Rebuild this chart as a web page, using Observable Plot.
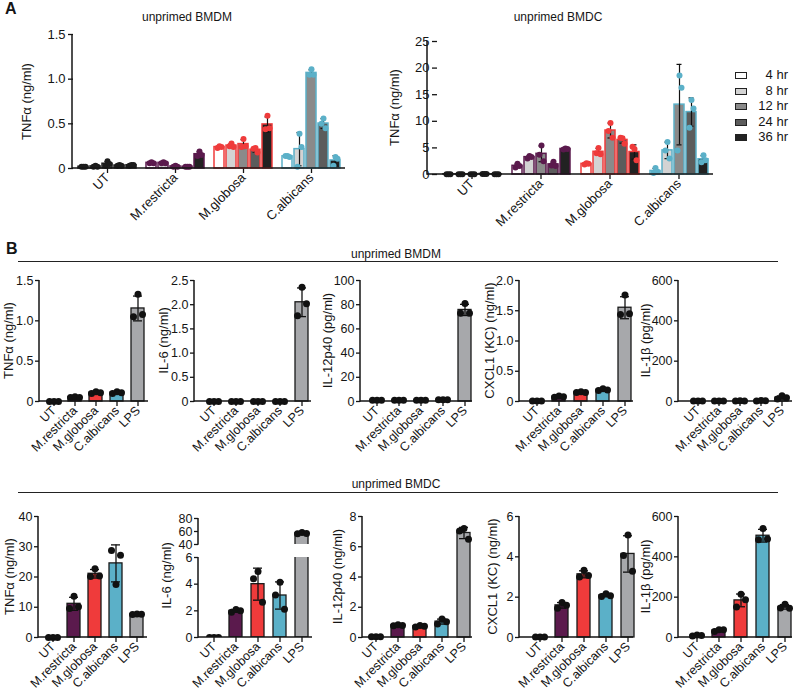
<!DOCTYPE html>
<html><head><meta charset="utf-8">
<script src="https://cdn.jsdelivr.net/npm/d3@7"></script>
<script src="https://cdn.jsdelivr.net/npm/@observablehq/plot@0.6"></script>
<style>
body{margin:0;background:#fff;}
#root{position:relative;width:800px;height:691px;overflow:hidden;font-family:"Liberation Sans",Arial,sans-serif;color:#151515;background:#fff;}
#root svg g[aria-label$="-axis tick"]{stroke-width:1.3px;}
.t{position:absolute;white-space:nowrap;}
</style></head><body><div id="root"></div>
<script>
// ---------- DATA ----------
const categories = ["UT", "M.restricta", "M.globosa", "C.albicans"];
const times = ["4 hr", "8 hr", "12 hr", "24 hr", "36 hr"];
const timeFills = ["#ffffff", "#d3d3d3", "#8a8a8a", "#5c5c5c", "#222222"];
const catColors = ["#1c1c1c", "#5b1a4d", "#ef3b3b", "#5bb0c8"];
const bCategories = ["UT", "M.restricta", "M.globosa", "C.albicans", "LPS"];
const bColors = ["#ffffff", "#5b1a4d", "#ef3b3b", "#5bb0c8", "#a7a8ab"];

// Panel A: TNFα (ng/ml), replicates per time point [4,8,12,24,36 hr]
const aBMDM_UT = [[0.02,0.02,0.02],[0.02,0.03,0.02],[0.03,0.08,0.05],[0.03,0.04,0.03],[0.03,0.04,0.04]];
const aBMDM_Mr = [[0.06,0.07,0.06],[0.06,0.07,0.06],[0.02,0.03,0.02],[0.02,0.02,0.02],[0.14,0.19,0.15]];
const aBMDM_Mg = [[0.23,0.25,0.24],[0.25,0.28,0.24],[0.24,0.33,0.25],[0.22,0.23,0.18],[0.44,0.59,0.45]];
const aBMDM_Ca = [[0.14,0.14,0.13],[0.02,0.39,0.24],[1.05,1.11,1.05],[0.50,0.56,0.45],[0.03,0.13,0.11]];

const aBMDC_UT = [[0.05,0.05,0.05],[0.05,0.05,0.05],[0.05,0.05,0.05],[0.1,0.1,0.1],[0.05,0.05,0.05]];
const aBMDC_Mr = [[1.3,2.0,1.6],[3.0,3.5,3.3],[3.7,5.45,2.5],[1.7,2.4,1.6],[4.7,4.9,4.8]];
const aBMDC_Mg = [[1.9,2.1,2.0],[4.0,5.0,3.8],[8.2,9.7,6.9],[6.9,6.8,5.8],[5.2,4.8,2.7]];
const aBMDC_Ca = [[0.3,1.2,0.5],[4.5,6.1,3.0],[4.5,18.6,16.3],[8.8,14.0,12.4],[2.3,3.6,2.7]];

// Panel B, unprimed BMDM: replicates per category [UT, M.restricta, M.globosa, C.albicans, LPS]
const bmdmTNF   = [[0,0,0],[0.05,0.06,0.05],[0.10,0.12,0.11],[0.10,0.12,0.11],[1.05,1.33,1.08]];
const bmdmIL6   = [[0,0,0],[0,0,0],[0,0,0],[0,0,0],[1.77,2.36,2.02]];
const bmdmIL12  = [[1,1,1],[1,1,1],[1,1,1],[1.5,1.5,1.5],[73,81,73]];
const bmdmCXCL1 = [[0.01,0.01,0.01],[0.07,0.09,0.08],[0.15,0.16,0.15],[0.18,0.21,0.19],[1.44,1.76,1.45]];
const bmdmIL1b  = [[3,3,3],[2,2,2],[3,4,3],[3,5,4],[12,28,18]];

// Panel B, unprimed BMDC
const bmdcTNF   = [[0,0,0],[9.6,13.6,10.2],[20.2,22.7,20.3],[28.8,17.5,27.2],[7.6,7.8,7.7]];
const bmdcIL6   = [[0,0,0],[1.9,2.1,2.0],[4.4,4.95,2.65],[3.19,4.15,2.11],[56.5,58.5,57]];
const bmdcIL12  = [[0.05,0.05,0.05],[0.78,0.85,0.8],[0.7,0.8,0.75],[0.89,1.22,1.04],[7.04,7.2,6.49]];
const bmdcCXCL1 = [[0.02,0.02,0.02],[1.45,1.73,1.6],[3.0,3.33,3.07],[2.03,2.17,2.07],[4.07,5.08,3.28]];
const bmdcIL1b  = [[8,12,10],[30,38,38],[151,214,187],[485,541,488],[146,165,145]];

// ---------- HELPERS ----------
const FONT = '"Liberation Sans", Arial, sans-serif';
const root = document.getElementById("root");
const fmt = dec => d => d === 0 ? "0" : d.toFixed(dec);

function place(node, left, top) {
  const w = document.createElement("div");
  w.style.position = "absolute"; w.style.left = left + "px"; w.style.top = top + "px";
  w.appendChild(node); root.appendChild(w); return w;
}
function text(str, left, top, css) {
  const d = document.createElement("div"); d.className = "t"; d.textContent = str;
  d.style.left = left + "px"; d.style.top = top + "px"; Object.assign(d.style, css || {});
  root.appendChild(d); return d;
}
function yLabel(str, cx, cy) {
  const W = 130;
  return text(str, cx - W / 2, cy - 7.5, {width: W + "px", textAlign: "center", fontSize: "13px", lineHeight: "15px", transform: "rotate(-90deg)"});
}
function axisLines(svg, ml, right, xLine) {
  const yr = svg.scale("y").range;
  const lo = Math.max(yr[0], yr[1]), hi = Math.min(yr[0], yr[1]);
  const g = d3.select(svg).append("g").attr("stroke", "#151515").attr("stroke-width", 1.5);
  g.append("line").attr("x1", ml).attr("x2", ml).attr("y1", lo + 0.75).attr("y2", hi);
  if (xLine) g.append("line").attr("x1", ml).attr("x2", right).attr("y1", lo).attr("y2", lo);
}

// ---------- PANEL A ----------
function panelA(o) {
  const summary = [], dots = [];
  categories.forEach((c, ci) => times.forEach((t, ti) => {
    const v = o.reps[ci][ti];
    summary.push({cat: c, time: t, mean: d3.mean(v), sd: d3.deviation(v), fill: timeFills[ti], stroke: catColors[ci]});
    v.forEach((y, k) => dots.push({cat: c, time: t, y, k, color: catColors[ci]}));
  }));
  const dotMark = (k, dx) => Plot.dot(dots.filter(d => d.k === k), {fx: "cat", x: "time", y: "y", r: 3, fill: "color", dx});
  const svg = Plot.plot({
    width: o.w, height: o.h, marginLeft: o.ml, marginRight: o.mr, marginTop: o.mt, marginBottom: o.mb,
    style: {fontFamily: FONT, fontSize: "13px", background: "transparent", overflow: "visible"},
    fx: {domain: categories, paddingInner: 0, paddingOuter: o.fxPad, align: o.fxAlign, axis: "bottom",
         tickRotate: -45, tickSize: 5, tickPadding: 2, label: null},
    x: {domain: times, paddingInner: 0.18, paddingOuter: o.xPad, axis: null},
    y: {domain: o.yDomain, ticks: o.yTicks, tickFormat: fmt(o.dec), tickSize: 5, tickPadding: 3, label: null},
    color: {type: "identity"},
    marks: [
      Plot.barY(summary, {fx: "cat", x: "time", y: "mean", fill: "fill", stroke: "stroke", strokeWidth: 1.5}),
      Plot.ruleX(summary, {fx: "cat", x: "time", y1: d => d.mean - d.sd, y2: d => d.mean + d.sd, stroke: "#111", strokeWidth: 1.2}),
      Plot.tickY(summary, {fx: "cat", x: "time", y: d => d.mean + d.sd, stroke: "#111", strokeWidth: 1.2, inset: 2.5}),
      Plot.tickY(summary, {fx: "cat", x: "time", y: d => d.mean - d.sd, stroke: "#111", strokeWidth: 1.2, inset: 2.5}),
      dotMark(0, -2), dotMark(1, 0), dotMark(2, 2)
    ]
  });
  axisLines(svg, o.ml, o.w - o.mr, true);
  place(svg, o.left, o.top);
  yLabel("TNFα (ng/ml)", o.labelX, o.top + (o.mt + o.h - o.mb) / 2);
}

panelA({reps: [aBMDM_UT, aBMDM_Mr, aBMDM_Mg, aBMDM_Ca], yDomain: [0, 1.5], yTicks: [0, 0.5, 1, 1.5], dec: 1,
  left: 0, top: 0, w: 380, h: 240, ml: 72, mr: 35, mt: 34, mb: 72, fxPad: 0, fxAlign: 0.5, xPad: 0.376, labelX: 26});
panelA({reps: [aBMDC_UT, aBMDC_Mr, aBMDC_Mg, aBMDC_Ca], yDomain: [0, 25], yTicks: [0, 5, 10, 15, 20, 25], dec: 0,
  left: 380, top: 0, w: 420, h: 240, ml: 47, mr: 87, mt: 41, mb: 66, fxPad: 0.059, fxAlign: 1, xPad: 0.425, labelX: 394});

// legend
times.forEach((t, i) => {
  const cy = 75 + i * 15.5;
  const sw = document.createElement("div");
  Object.assign(sw.style, {position: "absolute", left: "735px", top: (cy - 3) + "px", width: "12px", height: "7px",
    boxSizing: "border-box", border: "1px solid #222", background: timeFills[i]});
  root.appendChild(sw);
  text(t, 748, cy - 8, {width: "40px", textAlign: "right", fontSize: "13px", lineHeight: "15px"});
});

// ---------- PANEL B ----------
function panelB(o) {
  const ml = 45, mr = 3, bw = 13;
  const left = o.ax - ml;
  const w = o.end - left + mr;
  const s = (o.c4 - o.c0) / 4;
  const summary = bCategories.map((c, i) => ({cat: c, fill: bColors[i], mean: d3.mean(o.reps[i]), sd: d3.deviation(o.reps[i])}));
  const dots = bCategories.flatMap((c, i) => o.reps[i].map((v, k) => ({cat: c, v, k})));
  const clip = !!o.clip;
  const dotMark = (k, dx) => Plot.dot(dots.filter(d => d.k === k), {x: "cat", y: "v", r: 3.5, fill: "#111", dx, clip});
  const svg = Plot.plot({
    width: w, height: o.h, marginLeft: ml, marginRight: mr, marginTop: o.mt, marginBottom: o.mb,
    style: {fontFamily: FONT, fontSize: "12.5px", background: "transparent", overflow: "visible"},
    x: {domain: bCategories, range: [o.c0 - left - bw / 2, o.c4 - left + bw / 2], paddingInner: 1 - bw / s, paddingOuter: 0,
        axis: o.noX ? null : "bottom", tickRotate: -45, tickSize: 5, tickPadding: 2, label: null},
    y: {domain: o.yDomain, ticks: o.yTicks, tickFormat: fmt(o.dec), tickSize: 4, tickPadding: 2, label: null},
    color: {type: "identity"},
    marks: [
      Plot.barY(summary, {x: "cat", y: "mean", fill: "fill", stroke: "#1a1a1a", strokeWidth: 1.3, clip}),
      Plot.ruleX(summary, {x: "cat", y1: d => d.mean - d.sd, y2: d => d.mean + d.sd, stroke: "#111", strokeWidth: 1.3, clip}),
      Plot.tickY(summary, {x: "cat", y: d => d.mean + d.sd, stroke: "#111", strokeWidth: 1.3, inset: 2, clip}),
      Plot.tickY(summary, {x: "cat", y: d => d.mean - d.sd, stroke: "#111", strokeWidth: 1.3, inset: 2, clip}),
      dotMark(0, -4.5), dotMark(1, 0), dotMark(2, 4.5)
    ]
  });
  axisLines(svg, ml, w - mr, !o.noX);
  place(svg, left, o.top);
  if (o.label) yLabel(o.label, o.labelX, o.labelY != null ? o.labelY : o.top + (o.mt + o.h - o.mb) / 2);
}

const row1 = {top: 262, h: 200, mt: 18, mb: 61};
const row2 = {top: 493, h: 198, mt: 23, mb: 54};

panelB({...row1, reps: bmdmTNF, yDomain: [0, 1.5], yTicks: [0, 0.5, 1, 1.5], dec: 1, label: "TNFα (ng/ml)", ax: 39, end: 148, c0: 52.7, c4: 138.3, labelX: 8});
panelB({...row1, reps: bmdmIL6, yDomain: [0, 2.5], yTicks: [0, 0.5, 1, 1.5, 2, 2.5], dec: 1, label: "IL-6 (ng/ml)", ax: 194, end: 311, c0: 213, c4: 302, labelX: 163});
panelB({...row1, reps: bmdmIL12, yDomain: [0, 100], yTicks: [0, 20, 40, 60, 80, 100], dec: 0, label: "IL-12p40 (pg/ml)", ax: 360, end: 472, c0: 376, c4: 465, labelX: 327});
panelB({...row1, reps: bmdmCXCL1, yDomain: [0, 2], yTicks: [0, 0.5, 1, 1.5, 2], dec: 1, label: "CXCL1 (KC) (ng/ml)", ax: 519, end: 633, c0: 536, c4: 625, labelX: 489});
panelB({...row1, reps: bmdmIL1b, yDomain: [0, 600], yTicks: [0, 200, 400, 600], dec: 0, label: "IL-1β (pg/ml)", ax: 678, end: 792, c0: 696, c4: 783, labelX: 645});

panelB({...row2, reps: bmdcTNF, yDomain: [0, 40], yTicks: [0, 10, 20, 30, 40], dec: 0, label: "TNFα (ng/ml)", ax: 38, end: 147, c0: 52, c4: 137, labelX: 9});
// IL-6 with broken axis: lower segment, then upper segment
panelB({...row2, mt: 64, reps: bmdcIL6, yDomain: [0, 6], yTicks: [0, 2, 4, 6], dec: 0, label: "IL-6 (ng/ml)", labelX: 166, labelY: 575, ax: 198, end: 312, c0: 213, c4: 302, clip: true});
panelB({top: 493, h: 55, mt: 25, mb: 4, reps: bmdcIL6, yDomain: [40, 80], yTicks: [40, 60, 80], dec: 0, label: null, ax: 198, end: 312, c0: 213, c4: 302, clip: true, noX: true});
panelB({...row2, reps: bmdcIL12, yDomain: [0, 8], yTicks: [0, 2, 4, 6, 8], dec: 0, label: "IL-12p40 (ng/ml)", ax: 362, end: 472, c0: 375, c4: 463, labelX: 337});
panelB({...row2, reps: bmdcCXCL1, yDomain: [0, 6], yTicks: [0, 2, 4, 6], dec: 0, label: "CXCL1 (KC) (ng/ml)", ax: 519, end: 633, c0: 538, c4: 628, labelX: 492});
panelB({...row2, reps: bmdcIL1b, yDomain: [0, 600], yTicks: [0, 200, 400, 600], dec: 0, label: "IL-1β (pg/ml)", ax: 678, end: 792, c0: 695, c4: 785, labelX: 645});

// ---------- TEXT & DECORATIONS ----------
text("A", 5, 0, {fontSize: "16px", fontWeight: "bold", lineHeight: "18px"});
text("B", 6, 240, {fontSize: "16px", fontWeight: "bold", lineHeight: "18px"});
text("unprimed BMDM", 87, 10, {width: "200px", textAlign: "center", fontSize: "12px", lineHeight: "14px"});
text("unprimed BMDC", 458, 10, {width: "200px", textAlign: "center", fontSize: "12px", lineHeight: "14px"});
text("unprimed BMDM", 296, 247, {width: "200px", textAlign: "center", fontSize: "12px", lineHeight: "14px"});
text("unprimed BMDC", 296, 477, {width: "200px", textAlign: "center", fontSize: "12px", lineHeight: "14px"});
[262, 493].forEach(y => {
  const l = document.createElement("div");
  Object.assign(l.style, {position: "absolute", left: "18px", top: (y - 1) + "px", width: "760px", height: "0", borderTop: "1.5px solid #222"});
  root.appendChild(l);
});
</script></body></html>
